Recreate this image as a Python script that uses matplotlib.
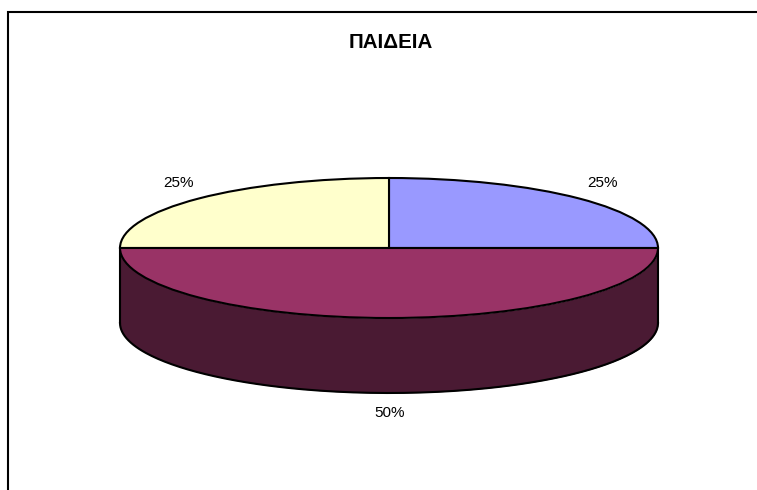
import numpy as np
import matplotlib
matplotlib.use('Agg')
import matplotlib.pyplot as plt
from matplotlib.patches import Rectangle

plt.rcParams['font.family'] = ['Liberation Sans', 'DejaVu Sans']

title = 'ΠΑΙΔΕΙΑ'
shares = [25, 25, 50]
labels = ['25%', '25%', '50%']
colors = ['#9999FF', '#FFFFCC', '#993366']
wall_color = '#4A1A33'

W, H = 757, 490
# pie geometry in pixels
cx, cy = 389, 248
rx, ry = 269, 70
depth = 75

fig = plt.figure(figsize=(W / 100, H / 100), dpi=100)
fig.patch.set_facecolor('white')

# chart frame, runs off the right and bottom of the picture
fig.add_artist(Rectangle((7.5 / W, -0.1), 1.1, 0.1 + (H - 12) / H,
                         transform=fig.transFigure, facecolor='none',
                         edgecolor='black', linewidth=1.5))

ax = fig.add_axes([0, 0, 1, 1])
wedges, _ = ax.pie(shares, startangle=0, colors=colors,
                   wedgeprops={'edgecolor': 'black', 'linewidth': 1.5})

# the pie is squashed to an ellipse by the axes scale
ax.set_aspect('auto')
ax.set_xlim(-cx / rx, (W - cx) / rx)
ax.set_ylim((cy - H) / ry, cy / ry)

# side wall of the front half
t = np.linspace(np.pi, 2 * np.pi, 200)
d = depth / ry
ax.fill_between(np.cos(t), np.sin(t), np.sin(t) - d, color=wall_color, lw=0, zorder=0)
ax.plot(np.cos(t), np.sin(t) - d, color='black', lw=1.5, zorder=0.5)
ax.plot([-1, -1], [0, -d], color='black', lw=1.5, zorder=0.5)
ax.plot([1, 1], [0, -d], color='black', lw=1.5, zorder=0.5)

# percentage labels
fig.text(602 / W, 1 - 182.5 / H, labels[0], ha='center', va='center', fontsize=11)
fig.text(178 / W, 1 - 182.5 / H, labels[1], ha='center', va='center', fontsize=11)
fig.text(390 / W, 1 - 412.5 / H, labels[2], ha='center', va='center', fontsize=11)

fig.text(391 / W, 1 - 42.5 / H, title, ha='center', va='center', fontsize=14.8, fontweight='bold')

fig.savefig('out.png', dpi=100)
